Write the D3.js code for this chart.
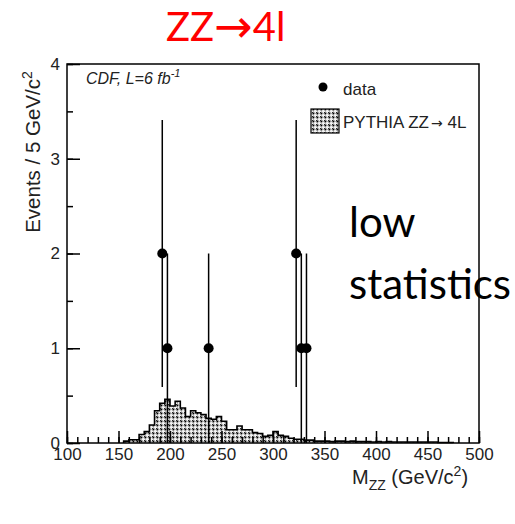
<!DOCTYPE html>
<html>
<head>
<meta charset="utf-8">
<script src="https://cdn.jsdelivr.net/npm/d3@7"></script>
<style>
  html, body { margin: 0; padding: 0; background: #fff; }
  svg { display: block; }
</style>
</head>
<body>
<svg id="chart" width="515" height="524"></svg>
<script>
// ZZ -> 4l invariant mass: CDF data vs PYTHIA expectation

// PYTHIA histogram, 5 GeV bins starting at 155 GeV/c^2
const mcStart = 155;
const mcBinWidth = 5;
const mcValues = [
  0.02, 0.035, 0.035, 0.09, 0.12, 0.19, 0.34, 0.42, 0.46, 0.39,
  0.44, 0.37, 0.28, 0.34, 0.32, 0.30, 0.26, 0.25, 0.28, 0.23,
  0.14, 0.14, 0.18, 0.14, 0.14, 0.11, 0.10, 0.07, 0.08, 0.12,
  0.08, 0.07, 0.05, 0.04, 0.04, 0.03, 0.03, 0.02, 0.02, 0.02,
  0.015, 0.02, 0.02, 0.015, 0.02, 0.015, 0.015, 0.015, 0.01, 0.015,
  0.01, 0.015, 0.01, 0.01, 0.01, 0.01, 0.01, 0.01, 0.01, 0.01,
  0.01, 0.005, 0.005, 0.005
];

// Observed events (bin centres) with Poisson errors
const dataMass   = [192.5, 197.5, 237.5, 322.5, 327.5, 332.5];
const dataEvents = [2, 1, 1, 2, 1, 1];
const dataErrLo  = [1.41, 1, 1, 1.41, 1, 1];
const dataErrHi  = [1.41, 1, 1, 1.41, 1, 1];

const xTickLabels = [100, 150, 200, 250, 300, 350, 400, 450, 500];
const yTickLabels = [0, 1, 2, 3, 4];

const svg = d3.select("#chart");
const frameL = 67, frameR = 479, frameT = 64, frameB = 443;

const x = d3.scaleLinear().domain([100, 500]).range([frameL, frameR]);
const y = d3.scaleLinear().domain([0, 4]).range([frameB, frameT]);

// hatch pattern for the MC histogram: short black "\" dashes on white/grey
const defs = svg.append("defs");
const pat = defs.append("pattern")
  .attr("id", "hatch")
  .attr("patternUnits", "userSpaceOnUse")
  .attr("width", 4).attr("height", 4);
pat.append("rect").attr("width", 4).attr("height", 4).attr("fill", "#f2f2f2");
pat.append("path").attr("d", "M0.3,0.3 L2.2,2.2")
  .attr("stroke", "#000").attr("stroke-width", 1.4);
pat.append("path").attr("d", "M2.2,0.2 L3.8,1.8 M0.2,2.2 L1.8,3.8")
  .attr("stroke", "#9a9a9a").attr("stroke-width", 0.9);

// histogram as step points
const steps = mcValues.map((v, i) => [mcStart + i * mcBinWidth, v]);
steps.push([mcStart + mcValues.length * mcBinWidth, 0]);

const area = d3.area()
  .x(d => x(d[0]))
  .y0(y(0))
  .y1(d => y(d[1]))
  .curve(d3.curveStepAfter);

svg.append("path")
  .datum(steps)
  .attr("d", area)
  .attr("fill", "url(#hatch)");

const outline = d3.line()
  .x(d => x(d[0]))
  .y(d => y(d[1]))
  .curve(d3.curveStepAfter);

svg.append("path")
  .datum([[mcStart, 0]].concat(steps))
  .attr("d", outline)
  .attr("fill", "none")
  .attr("stroke", "#000")
  .attr("stroke-width", 1.6);

// axes: ticks point inward
const xMinor = d3.range(100, 501, 10);
const yMinor = d3.range(0, 4.01, 0.5);

const gx = svg.append("g").attr("transform", `translate(0,${frameB})`)
  .call(d3.axisBottom(x).tickValues(xMinor).tickSize(-6).tickFormat(""));
gx.select(".domain").remove();
const gx2 = svg.append("g").attr("transform", `translate(0,${frameB})`)
  .call(d3.axisBottom(x).tickValues(xTickLabels).tickSize(-12).tickPadding(5));
gx2.select(".domain").remove();

const gy = svg.append("g").attr("transform", `translate(${frameL},0)`)
  .call(d3.axisLeft(y).tickValues(yMinor).tickSize(-6).tickFormat(""));
gy.select(".domain").remove();
const gy2 = svg.append("g").attr("transform", `translate(${frameL},0)`)
  .call(d3.axisLeft(y).tickValues(yTickLabels).tickSize(-13).tickPadding(7).tickFormat(d3.format("d")));
gy2.select(".domain").remove();

svg.selectAll(".tick line").attr("stroke", "#000").attr("stroke-width", 1.5);
svg.selectAll(".tick text")
  .attr("font-family", "Liberation Sans, Arial, sans-serif")
  .attr("font-size", 17)
  .attr("fill", "#222");

// frame
svg.append("rect")
  .attr("x", frameL).attr("y", frameT)
  .attr("width", frameR - frameL).attr("height", frameB - frameT)
  .attr("fill", "none").attr("stroke", "#000").attr("stroke-width", 1.5);

// data points with error bars
const pts = svg.append("g");
dataMass.forEach((m, i) => {
  pts.append("line")
    .attr("x1", x(m)).attr("x2", x(m))
    .attr("y1", y(dataEvents[i] - dataErrLo[i]))
    .attr("y2", y(dataEvents[i] + dataErrHi[i]))
    .attr("stroke", "#000").attr("stroke-width", 1.5);
});
dataMass.forEach((m, i) => {
  pts.append("circle")
    .attr("cx", x(m)).attr("cy", y(dataEvents[i]))
    .attr("r", 5).attr("fill", "#000");
});

// labels
const helv = "Liberation Sans, Arial, sans-serif";
svg.append("text")
  .attr("transform", "translate(40,152) rotate(-90)")
  .attr("text-anchor", "middle")
  .attr("font-family", helv).attr("font-size", 20.5).attr("fill", "#222")
  .html('Events / 5 GeV/c<tspan dy="-8" font-size="14">2</tspan>');

svg.append("text")
  .attr("x", 352).attr("y", 484)
  .attr("font-family", helv).attr("font-size", 20).attr("fill", "#222")
  .html('M<tspan dy="6" font-size="14">ZZ</tspan><tspan dy="-6"> (GeV/c</tspan><tspan dy="-8" font-size="14">2</tspan><tspan dy="8">)</tspan>');

svg.append("text")
  .attr("x", 86).attr("y", 84)
  .attr("font-family", helv).attr("font-size", 16).attr("font-style", "italic").attr("fill", "#222")
  .html('CDF, L=6 fb<tspan dy="-7" font-size="11">-1</tspan>');

// legend
svg.append("circle").attr("cx", 323).attr("cy", 87).attr("r", 4.5).attr("fill", "#000");
svg.append("text").attr("x", 343).attr("y", 95)
  .attr("font-family", helv).attr("font-size", 17).attr("fill", "#222").text("data");
svg.append("rect").attr("x", 311).attr("y", 109).attr("width", 28).attr("height", 24)
  .attr("fill", "url(#hatch)").attr("stroke", "#000").attr("stroke-width", 1.2);
svg.append("text").attr("x", 343).attr("y", 128)
  .attr("font-family", helv).attr("font-size", 17).attr("fill", "#222")
  .html('PYTHIA ZZ<tspan font-family="DejaVu Sans" font-size="14" dx="2">\u2192</tspan> 4L');

// title and annotation
svg.append("text").attr("x", 166).attr("y", 41)
  .attr("font-family", "Lato, Open Sans, sans-serif").attr("font-size", 40).attr("fill", "#ff0000")
  .html('ZZ<tspan font-family="DejaVu Sans" font-size="46" dy="1">\u2192</tspan><tspan dy="-1">4l</tspan>');

svg.append("text").attr("x", 349).attr("y", 237)
  .attr("font-family", "Lato, Open Sans, sans-serif").attr("font-size", 42).attr("fill", "#000")
  .text("low");
svg.append("text").attr("x", 349).attr("y", 299)
  .attr("font-family", "Lato, Open Sans, sans-serif").attr("font-size", 42).attr("fill", "#000")
  .text("statistics");
</script>
</body>
</html>
